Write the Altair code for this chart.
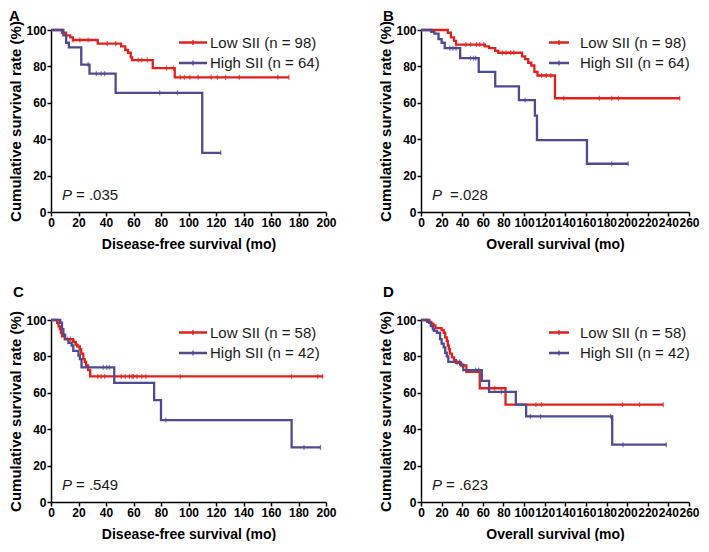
import altair as alt
import pandas as pd

RED = "#E2211C"
BLUE = "#4E4B91"
FONT = "Liberation Sans"

# ---------------- Panel A: Disease-free survival ----------------
a_low_t = [0, 8, 11, 14, 16, 34, 51, 54, 56, 58, 59, 74, 90, 173]
a_low_s = [100, 98.5, 97, 96, 94.5, 92.5, 91, 89, 87.5, 85, 83.5, 79, 74, 74]
a_low_c = [16, 21, 27, 41, 47, 63.5, 66, 70, 84, 89, 94, 97, 101, 107, 116.5, 121, 127, 137, 165, 173]
a_high_t = [0, 9, 11, 13, 22, 28, 47, 110, 123.5]
a_high_s = [100, 97, 93, 90.5, 81, 76, 65.5, 32.5, 32.5]
a_high_c = [27, 33, 36.5, 39, 79, 92, 123.5]

# ---------------- Panel B: Overall survival ----------------
b_low_t = [0, 26, 29, 32, 34, 62, 66, 72, 75, 98, 101, 104, 107, 110, 113, 130, 251]
b_low_s = [100, 98.5, 96, 94, 92, 91, 90, 88.5, 87.5, 85.5, 84, 82, 80.5, 77, 75, 62.5, 62.5]
b_low_c = [43.5, 48, 54, 57, 61, 79, 82.5, 87, 90, 117, 121.5, 126, 138.5, 173, 185, 191.5, 251]
b_high_t = [0, 10, 13, 17, 20, 23, 38, 56, 72, 95, 110.5, 112.5, 161, 201]
b_high_s = [100, 99, 98, 95, 93, 90, 84.5, 77, 69, 61.5, 53, 39.5, 26.5, 26.5]
b_high_c = [28, 31, 34, 48, 51, 53, 101, 185, 201]

# ---------------- Panel C: Disease-free survival ----------------
c_low_t = [0, 4.5, 5.5, 6.5, 7.2, 8, 10, 16, 18, 19, 21, 22, 23.5, 24.5, 25.5, 27, 28.5, 198]
c_low_s = [100, 98.5, 96.5, 95, 93, 91, 89.5, 88, 86.5, 85.5, 84, 81.5, 78.5, 77, 75, 72.5, 69, 69]
c_low_c = [12, 14, 17, 20, 34, 36.5, 39, 51, 54, 57, 59, 60, 62.5, 66, 69, 94, 175, 194, 197.5]
c_high_t = [0, 6.7, 8, 9, 10.3, 12.7, 15, 16.2, 20, 21, 22.2, 46, 75, 80, 175, 196]
c_high_s = [100, 98.5, 95, 92, 89.5, 87.5, 86, 83, 80.5, 78.5, 74, 65.5, 56, 45, 30, 30]
c_high_c = [38, 40.5, 42.5, 83.5, 184, 196]

# ---------------- Panel D: Overall survival ----------------
d_low_t = [0, 8, 10, 12, 14, 20, 22, 23.5, 25, 26, 27, 28, 30, 32, 34, 39, 44, 57, 82, 235]
d_low_s = [100, 99, 98, 97, 95.5, 94.5, 93, 90.5, 88.5, 86, 84, 81.5, 79.5, 78, 76.5, 75, 71.5, 62.5, 53.5, 53.5]
d_low_c = [35, 40, 71.5, 111.5, 117, 195.5, 212, 235]
d_high_t = [0, 6, 8, 9.5, 11.5, 12.5, 15.5, 18.5, 20, 22, 23.5, 25, 26.5, 38, 41, 59, 66, 92, 102, 185.5, 238]
d_high_s = [100, 99, 98.4, 96.6, 95, 94, 93, 89.5, 87, 85, 82, 80, 77, 75.5, 72.5, 66.5, 60.5, 53.5, 47, 31.5, 31.5]
d_high_c = [37.4, 53, 56, 78, 106, 116, 184, 196, 238]

Y_TICKS = [0, 20, 40, 60, 80, 100]


def step_value(ts, ss, t):
    v = ss[0]
    for ti, si in zip(ts, ss):
        if ti <= t:
            v = si
    return v


def panel(letter, low, high, xmax, xtitle, labels, p_rest, p_x, width, height,
          title_offset, title_dx, leg_len):
    (lt, ls, lc), (ht, hs, hc) = low, high
    steps = pd.DataFrame(
        {"t": lt + ht, "s": ls + hs,
         "g": ["Low"] * len(lt) + ["High"] * len(ht)}
    )
    cens = pd.DataFrame(
        {"t": lc + hc,
         "s": [step_value(lt, ls, t) for t in lc] + [step_value(ht, hs, t) for t in hc],
         "g": ["Low"] * len(lc) + ["High"] * len(hc)}
    )
    cscale = alt.Scale(domain=["Low", "High"], range=[RED, BLUE])
    x = alt.X("t:Q", scale=alt.Scale(domain=[0, xmax], nice=False, zero=True),
              axis=alt.Axis(values=list(range(0, xmax + 1, 20)), title=xtitle,
                            labelOverlap=False, labelFlush=False))
    y = alt.Y("s:Q", scale=alt.Scale(domain=[0, 100], nice=False),
              axis=alt.Axis(values=Y_TICKS, title="Cumulative survival rate (%)",
                            labelOverlap=False, labelFlush=False))
    color = alt.Color("g:N", scale=cscale, legend=None)

    lines = alt.Chart(steps).mark_line(interpolate="step-after", strokeWidth=2.3).encode(
        x=x, y=y, color=color, detail="g:N"
    )
    ticks = alt.Chart(cens).mark_tick(orient="vertical", size=5, thickness=1.3).encode(
        x=x, y=y, color=color
    )

    one = pd.DataFrame({"k": [0]})
    layers = [lines, ticks]
    x0 = 128
    for i, (lab, col) in enumerate(zip(labels, [RED, BLUE])):
        yy = 12.5 + 20.5 * i
        layers.append(alt.Chart(one).mark_rule(color=col, strokeWidth=2.5).encode(
            x=alt.value(x0), x2=alt.value(x0 + leg_len), y=alt.value(yy)))
        layers.append(alt.Chart(one).mark_rule(color=col, strokeWidth=1.3).encode(
            x=alt.value(x0 + leg_len / 2), y=alt.value(yy - 2.5), y2=alt.value(yy + 2.5)))
        layers.append(alt.Chart(one).mark_text(
            align="left", baseline="middle", fontSize=15, font=FONT, color="#1a1a1a"
        ).encode(x=alt.value(159), y=alt.value(yy), text=alt.value(lab)))
    layers.append(alt.Chart(one).mark_text(
        align="left", baseline="middle", fontSize=15, font=FONT, fontStyle="italic",
        color="#1a1a1a").encode(x=alt.value(11), y=alt.value(height - 17), text=alt.value("P")))
    layers.append(alt.Chart(one).mark_text(
        align="left", baseline="middle", fontSize=15, font=FONT, color="#1a1a1a"
    ).encode(x=alt.value(p_x), y=alt.value(height - 17), text=alt.value(p_rest)))

    return alt.layer(*layers).properties(
        width=width, height=height,
        title=alt.TitleParams(letter, anchor="start", fontSize=15, fontWeight="bold",
                              font=FONT, color="black", offset=title_offset, dx=title_dx),
    )


WL, WR = 275, 268
H1, H2 = 182, 182

pA = panel("A", (a_low_t, a_low_s, a_low_c), (a_high_t, a_high_s, a_high_c), 200,
           "Disease-free survival (mo)", ["Low SII (n = 98)", "High SII (n = 64)"],
           "= .035", 25, WL, H1, -3, 0, 28)
pB = panel("B", (b_low_t, b_low_s, b_low_c), (b_high_t, b_high_s, b_high_c), 260,
           "Overall survival (mo)", ["Low SII (n = 98)", "High SII (n = 64)"],
           "=.028", 29, WR, H1, -3, 4, 20)
pC = panel("C", (c_low_t, c_low_s, c_low_c), (c_high_t, c_high_s, c_high_c), 200,
           "Disease-free survival (mo)", ["Low SII (n = 58)", "High SII (n = 42)"],
           "= .549", 25, WL, H2, 11, 4, 28)
pD = panel("D", (d_low_t, d_low_s, d_low_c), (d_high_t, d_high_s, d_high_c), 260,
           "Overall survival (mo)", ["Low SII (n = 58)", "High SII (n = 42)"],
           "= .623", 25, WR, H2, 11, 4, 20)

row1 = alt.hconcat(pA, pB, spacing=41)
row2 = alt.hconcat(pC, pD, spacing=41)
chart = alt.vconcat(row1, row2, spacing=33).properties(padding=0).configure_view(
    stroke=None
).configure_axis(
    grid=False, domainColor="black", domainWidth=1.5, tickColor="black", tickWidth=1.5,
    tickSize=4, labelFont=FONT, labelFontWeight="bold", labelFontSize=12, labelColor="black",
    labelPadding=1, titleFont=FONT, titleFontWeight="bold", titleColor="black",
    titleFontSize=14, labelOverlap=False
).configure_axisY(titleFontSize=15, titlePadding=2).configure_axisX(titlePadding=9)

chart.save("out.html", embed_options={"renderer": "svg", "actions": False})
